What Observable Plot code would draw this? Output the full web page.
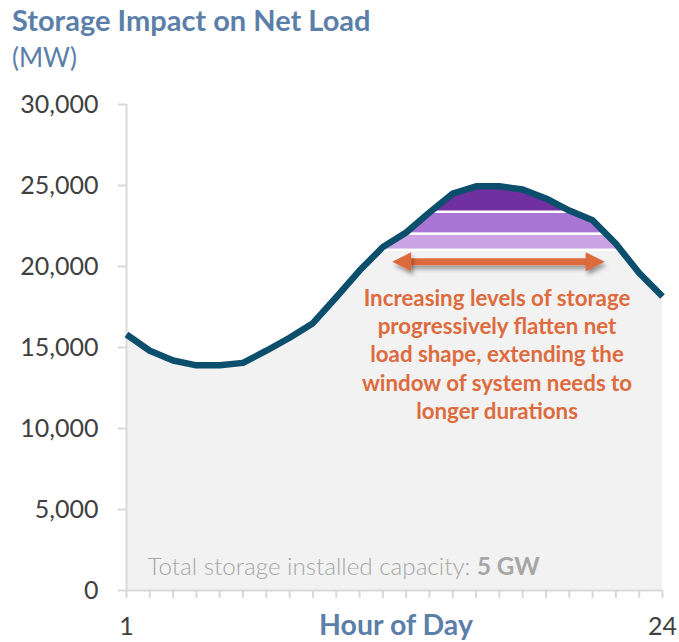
<!DOCTYPE html>
<html>
<head>
<meta charset="utf-8">
<script src="https://cdn.jsdelivr.net/npm/d3@7"></script>
<script src="https://cdn.jsdelivr.net/npm/@observablehq/plot@0.6"></script>
<style>
  html, body { margin: 0; padding: 0; background: white; }
  #wrap { position: relative; width: 679px; height: 642px; overflow: hidden; font-family: Lato, "Open Sans", sans-serif; }
  .title { position: absolute; left: 12px; top: 3px; font-size: 29px; font-weight: bold; color: #5B7FA8; line-height: 34px; white-space: nowrap; }
  .unit { position: absolute; left: 12px; top: 42px; font-size: 26px; color: #5B7FA8; line-height: 30px; }
  .xlabel { position: absolute; left: 0; width: 792px; top: 608px; text-align: center; font-size: 28.5px; font-weight: bold; color: #5B7FA8; line-height: 32px; }
  #chart { position: absolute; left: 0; top: 75px; }
</style>
</head>
<body>
<div id="wrap">
  <div class="title">Storage Impact on Net Load</div>
  <div class="unit">(MW)</div>
  <div id="chart"></div>
  <div class="xlabel">Hour of Day</div>
</div>
<script>
// Hour of day
const hours = [1,2,3,4,5,6,7,8,9,10,11,12,13,14,15,16,17,18,19,20,21,22,23,24];
// Net load (MW)
const netLoad = [15800,14800,14200,13900,13900,14050,14800,15600,16500,18100,19750,21200,22100,23330,24500,24950,24950,24750,24200,23450,22850,21400,19600,18150];
// Storage bands (MW levels)
const bandLow = [21000, 22000, 23350];
const bandHigh = [22000, 23350, 26000];
const bandColors = ["#C9A3E3", "#A875D5", "#7030A0"];
const bandHours = [11, 24];
// Y ticks
const yTicks = [0, 5000, 10000, 15000, 20000, 25000, 30000];
const yMax = 30000;
// Annotation
const arrowTips = [12.40, 21.52];
const arrowShaft = [13.0, 20.95];
const arrowLevel = 20300;
const noteText = "Increasing levels of storage\nprogressively flatten net\nload shape, extending the\nwindow of system needs to\nlonger durations";
const noteX = 16.9;
const noteY = 14650;
const capacityText = "Total storage installed capacity: ";
const capacityValue = "5 GW";
const capacityPos = [1.9, 1420];

const data = hours.map((h, i) => ({hour: h, load: netLoad[i]}));
const bands = bandLow.map((lo, i) => ({lo, hi: bandHigh[i], color: bandColors[i]}));
const heads = [
  {x: arrowTips[0], rotate: 180},
  {x: arrowTips[1], rotate: 0}
];

// arrow head symbol: tip at origin, pointing right
const headSymbol = {
  draw(context, size) {
    const r = Math.sqrt(size / Math.PI);
    const L = 2 * r, W = 2 * r;
    context.moveTo(0, 0);
    context.lineTo(-L, -W / 2);
    context.lineTo(-L, W / 2);
    context.closePath();
  }
};

const orange = "#DD6B3D";

const chart = Plot.plot({
  width: 679,
  height: 567,
  marginTop: 29,
  marginBottom: 52,
  marginLeft: 126,
  marginRight: 17,
  style: {fontFamily: "Lato, 'Open Sans', sans-serif", background: "white", overflow: "visible"},
  x: {domain: [1, 24]},
  y: {domain: [0, yMax]},
  marks: [
    Plot.areaY(data, {x: "hour", y: "load", fill: "#F2F2F2"}),
    Plot.rect(bands, {x1: () => bandHours[0], x2: () => bandHours[1], y1: "lo", y2: "hi", fill: "color", stroke: "white", strokeWidth: 2.5}),
    Plot.areaY(data, {x: "hour", y1: "load", y2: () => yMax, fill: "white"}),
    Plot.ruleX([1], {y1: 0, y2: yMax, stroke: "#D9D9D9", strokeWidth: 2}),
    Plot.ruleY([0], {stroke: "#D9D9D9", strokeWidth: 2}),
    Plot.axisY({ticks: yTicks, tickFormat: d3.format(","), tickSize: 8, tickPadding: 20, fontSize: 25, fill: "#404040", stroke: "#D9D9D9", strokeWidth: 2, label: null}),
    Plot.axisX({ticks: hours, tickFormat: d => (d === 1 || d === 24) ? String(d) : "", tickSize: 8, tickPadding: 19, fontSize: 25, fill: "#404040", stroke: "#D9D9D9", strokeWidth: 2, label: null}),
    Plot.line(data, {x: "hour", y: "load", stroke: "#0B4F6C", strokeWidth: 6.5, strokeLinejoin: "round", strokeLinecap: "butt"}),
    Plot.ruleY([arrowLevel], {x1: () => arrowShaft[0], x2: () => arrowShaft[1], stroke: orange, strokeWidth: 7, className: "arrowmark"}),
    Plot.dot(heads, {x: "x", y: () => arrowLevel, rotate: "rotate", symbol: headSymbol, r: 9.5, fill: orange, stroke: "none", className: "arrowmark"}),
    Plot.text([noteText], {x: () => noteX, y: () => noteY, text: d => d, fill: orange, fontWeight: "bold", fontSize: 22.3, lineHeight: 1.27, textAnchor: "middle"}),
    Plot.text([capacityText], {x: () => capacityPos[0], y: () => capacityPos[1], text: d => d, fill: "#A6A6A6", fontSize: 24.2, fontWeight: 300, textAnchor: "start", className: "capacity"})
  ]
});
document.getElementById("chart").appendChild(chart);

// Append bold value to the capacity note
const capText = d3.select(chart).select(".capacity text");
capText.append("tspan").attr("font-weight", "bold").text(capacityValue);

// Soft drop shadow under the arrow
const defs = d3.select(chart).insert("defs", ":first-child");
defs.append("filter").attr("id", "arrowShadow")
  .attr("filterUnits", "userSpaceOnUse")
  .attr("x", 0).attr("y", 0).attr("width", 679).attr("height", 567)
  .append("feDropShadow").attr("dx", 2).attr("dy", 4).attr("stdDeviation", 2).attr("flood-color", "#000").attr("flood-opacity", 0.35);
d3.select(chart).selectAll(".arrowmark").attr("filter", "url(#arrowShadow)");
</script>
</body>
</html>
